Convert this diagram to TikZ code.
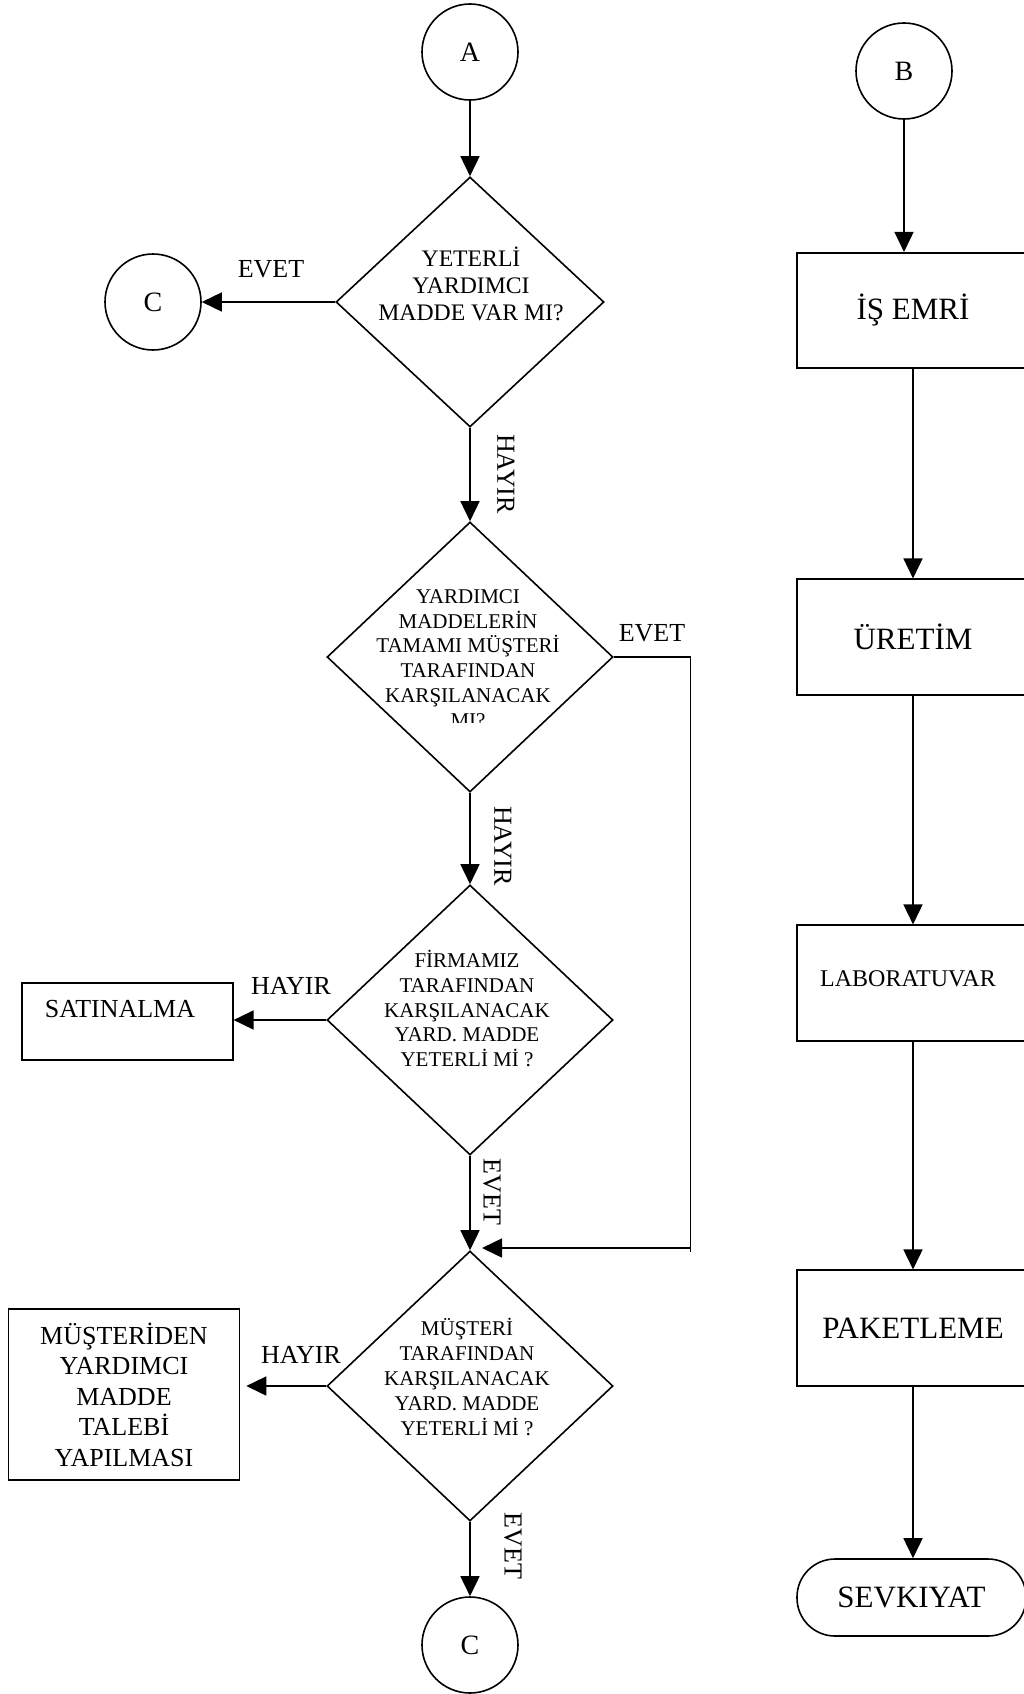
\documentclass[tikz,border=0pt]{standalone}
\usepackage{fontspec}
\setmainfont{Liberation Serif}
\usetikzlibrary{arrows.meta,shapes.geometric}
\newcommand{\fsz}[2]{\fontsize{#1}{#2}\selectfont}
\begin{document}
\begin{tikzpicture}[x=1pt,y=-1pt,line width=1.6pt,
  flow/.style={-{Triangle[length=20pt,width=19pt]}},
  conncirc/.style={circle,draw,minimum size=96pt,inner sep=0pt,font=\fsz{28}{32}},
  decision/.style={diamond,draw,inner sep=0pt,minimum width=286pt,minimum height=270pt},
  dtext/.style={align=center,inner sep=0pt,font=\fsz{21}{24.8}},
  procbox/.style={rectangle,draw,minimum width=232pt,minimum height=115.5pt,inner sep=0pt,font=\fsz{31}{35}},
  lbl/.style={inner sep=0pt,font=\fsz{26}{30}},
  vlbl/.style={lbl,rotate=-90},
]
\useasboundingbox (0,0) rectangle (1024,1694);
\fill[white] (0,0) rectangle (1024,1694);
\clip (0,0) rectangle (1024,1694);

% ---- left column: material check ----
\node[conncirc] (a) at (470,52) {A};
\node[decision,minimum width=268pt,minimum height=250pt] (d1) at (470,302) {};
\node[dtext,font=\fsz{23.7}{27}] (d1t) at (471,284) {YETERLİ\\YARDIMCI\\MADDE VAR MI?};
\node[conncirc] (c1) at (153,302) {C};

\node[decision] (d2) at (470,657) {};
\begin{scope}
  \clip (300,500) rectangle (650,722);
  \node[dtext] (d2t) at (468,658.5) {YARDIMCI\\MADDELERİN\\TAMAMI MÜŞTERİ\\TARAFINDAN\\KARŞILANACAK\\MI?};
\end{scope}

\node[decision] (d3) at (470,1020) {};
\node[dtext] (d3t) at (467,1008.5) {FİRMAMIZ\\TARAFINDAN\\KARŞILANACAK\\YARD. MADDE\\YETERLİ Mİ ?};

\node[decision] (d4) at (470,1386) {};
\node[dtext] (d4t) at (467,1377) {MÜŞTERİ\\TARAFINDAN\\KARŞILANACAK\\YARD. MADDE\\YETERLİ Mİ ?};

\node[conncirc] (c2) at (470,1645) {C};

\node[rectangle,draw,minimum width=211pt,minimum height=77pt] (sat) at (127.3,1021.5) {};
\node[lbl] (satt) at (120,1009) {SATINALMA};

\node[rectangle,draw,minimum width=231pt,minimum height=171pt,align=center,font=\fsz{26}{30.5}] (mus) at (124,1394.5)
  {MÜŞTERİDEN\\YARDIMCI\\MADDE\\TALEBİ\\YAPILMASI};
\coordinate (mustip) at ([xshift=6pt]mus.east);

\coordinate (loopc) at (690.5,1248);
\coordinate (loopend) at (482,1248);
\coordinate (loopfoot) at (690.5,1252);

% connectors
\draw[flow] (a.south) -- (d1.north);
\draw[flow] (d1.west) -- (c1.east);
\draw[flow] (d1.south) -- (d2.north);
\draw (loopc) -- (loopfoot);
\draw[flow] (d2.east) -| (loopc) -- (loopend);
\draw[flow] (d2.south) -- (d3.north);
\draw[flow] (d3.west) -- (d3.west -| sat.east);
\draw[flow] (d3.south) -- (d4.north);
\draw[flow] (d4.west) -- (d4.west -| mustip);
\draw[flow] (d4.south) -- (c2.north);

% branch labels
\node[lbl] (l1) at (271,269) {EVET};
\node[vlbl] (l2) at (506,474) {HAYIR};
\node[lbl] (l3) at (652,633) {EVET};
\node[vlbl] (l4) at (503,846) {HAYIR};
\node[lbl] (l5) at (291,986) {HAYIR};
\node[vlbl] (l6) at (492,1192) {EVET};
\node[lbl] (l7) at (301,1355) {HAYIR};
\node[vlbl] (l8) at (513,1546) {EVET};

% ---- right column: production ----
\node[conncirc] (b) at (904,71) {B};
\node[procbox] (ise) at (913,310.5) {İŞ EMRİ};
\node[procbox] (ure) at (913,637) {ÜRETİM};
\node[procbox] (lab) at (913,983) {};
\node[lbl,font=\fsz{24}{28}] (labt) at (908,979) {LABORATUVAR};
\node[procbox] (pak) at (913,1328) {PAKETLEME};
\node[procbox,rounded corners=38pt,minimum width=229pt,minimum height=77pt] (sev) at (911.5,1597.5) {SEVKIYAT};

\draw[flow] (b.south) -- (b.south |- ise.north);
\draw[flow] (ise.south) -- (ure.north);
\draw[flow] (ure.south) -- (lab.north);
\draw[flow] (lab.south) -- (pak.north);
\draw[flow] (pak.south) -- (pak.south |- sev.north);
\end{tikzpicture}
\end{document}
